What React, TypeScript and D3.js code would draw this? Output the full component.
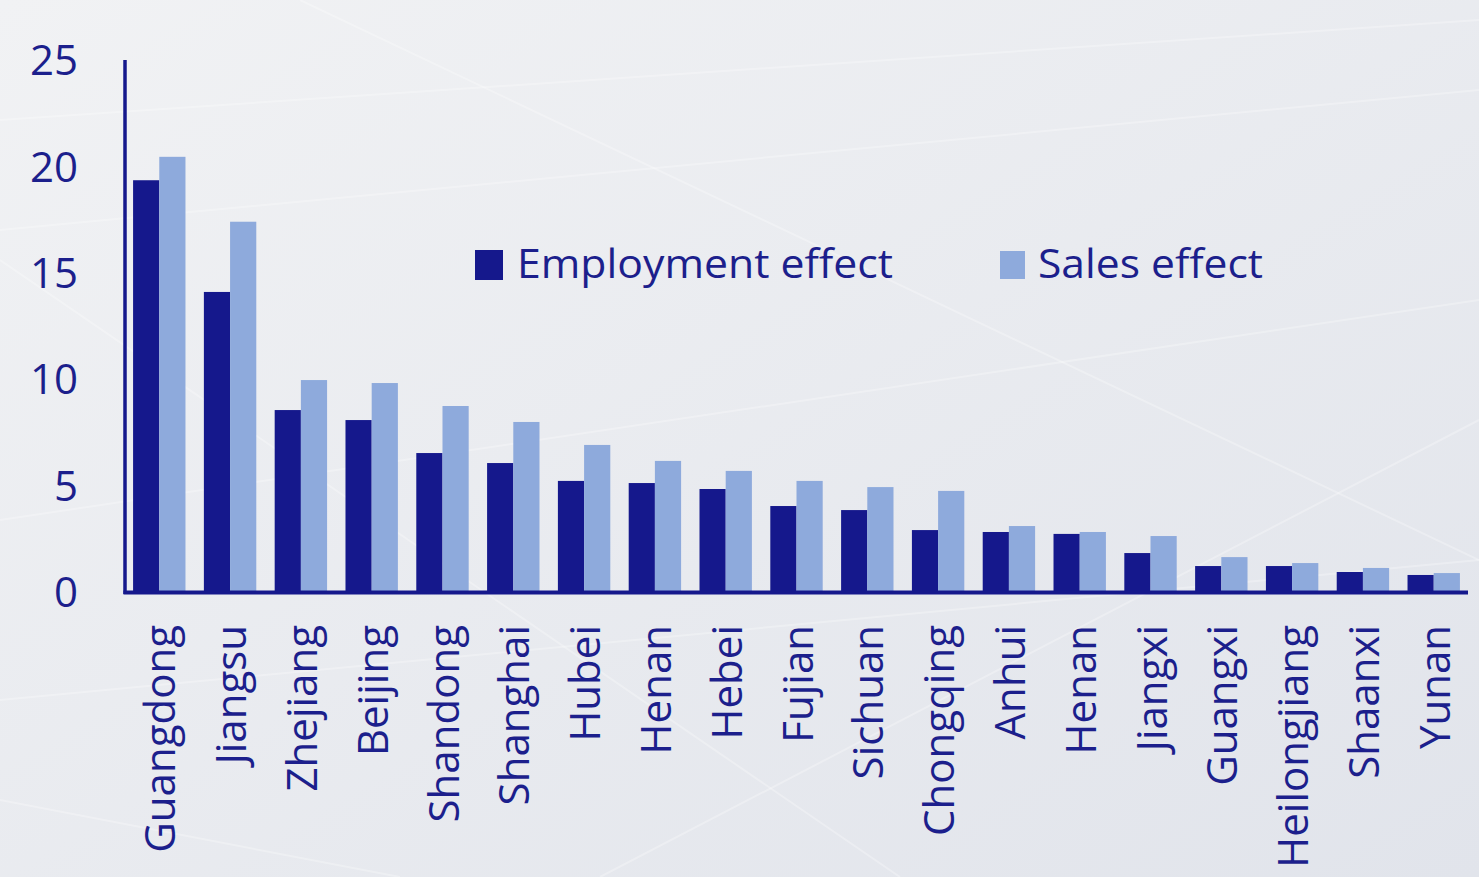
import { useEffect } from 'react';
import * as d3 from 'd3';

const provinces = [
  'Guangdong', 'Jiangsu', 'Zhejiang', 'Beijing', 'Shandong', 'Shanghai', 'Hubei', 'Henan', 'Hebei',
  'Fujian', 'Sichuan', 'Chongqing', 'Anhui', 'Henan', 'Jiangxi', 'Guangxi', 'Heilongjiang', 'Shaanxi', 'Yunan',
];
const employmentEffect = [19.35, 14.1, 8.55, 8.08, 6.53, 6.06, 5.22, 5.12, 4.84, 4.04, 3.85, 2.91, 2.82, 2.73, 1.83, 1.22, 1.22, 0.94, 0.8];
const salesEffect = [20.45, 17.4, 9.96, 9.82, 8.74, 7.99, 6.91, 6.16, 5.69, 5.22, 4.93, 4.75, 3.1, 2.82, 2.63, 1.64, 1.36, 1.13, 0.89];
const yTicks = [0, 5, 10, 15, 20, 25];

const DARK = '#15188c';
const LIGHT = '#8eaadc';
const TEXT = '#1c1f8c';

const W = 1479;
const H = 877;

export default function App() {
  useEffect(() => {
    document.body.style.margin = '0';
  }, []);

  const y = d3.scaleLinear().domain([0, 25]).range([592, 60]);
  const x = d3.scaleBand<number>()
    .domain(d3.range(provinces.length))
    .range([126, 1467])
    .paddingInner(0.26)
    .paddingOuter(0.1);
  const inner = d3.scaleBand<string>()
    .domain(['emp', 'sales'])
    .range([0, x.bandwidth()]);

  // faint background streaks
  const streaks = [
    [0, 120, 1479, 20], [0, 230, 1479, 90], [0, 520, 1479, 300], [0, 260, 900, 877],
    [300, 0, 1479, 560], [0, 700, 1479, 560], [600, 877, 1479, 420], [0, 800, 400, 877],
  ];

  return (
    <svg width={W} height={H} style={{ display: 'block' }}>
      <defs>
        <linearGradient id="bg" x1="0" y1="0" x2="1" y2="1">
          <stop offset="0%" stopColor="#f1f2f4" />
          <stop offset="100%" stopColor="#e1e4eb" />
        </linearGradient>
      </defs>
      <rect width={W} height={H} fill="url(#bg)" />
      {streaks.map((s, i) => (
        <line key={i} x1={s[0]} y1={s[1]} x2={s[2]} y2={s[3]} stroke="#ffffff" strokeOpacity={0.28} strokeWidth={2} />
      ))}

      {/* bars */}
      {provinces.map((p, i) => (
        <g key={i} transform={`translate(${x(i)},0)`}>
          <rect x={inner('emp')} y={y(employmentEffect[i])} width={inner.bandwidth()}
            height={y(0) - y(employmentEffect[i])} fill={DARK} />
          <rect x={inner('sales')} y={y(salesEffect[i])} width={inner.bandwidth()}
            height={y(0) - y(salesEffect[i])} fill={LIGHT} />
        </g>
      ))}

      {/* axes */}
      <line x1={125} x2={125} y1={y(25)} y2={y(0) + 2} stroke={DARK} strokeWidth={3.5} />
      <line x1={123.5} x2={1468} y1={y(0) + 0.5} y2={y(0) + 0.5} stroke={DARK} strokeWidth={4} />

      {yTicks.map(t => (
        <text key={t} x={78} y={y(t)} dy="0.36em" textAnchor="end" fill={TEXT}
          fontFamily="Open Sans" fontSize={42}>{t}</text>
      ))}

      {provinces.map((p, i) => (
        <text key={i} transform={`translate(${(x(i) ?? 0) + x.bandwidth() / 2 + 1},625) rotate(-90)`}
          dy="0.36em" textAnchor="end" fill={TEXT} fontFamily="Open Sans" fontSize={42}
          fontWeight={500}>{p}</text>
      ))}

      {/* legend */}
      <rect x={475} y={250} width={28} height={30} fill={DARK} />
      <text x={517} y={278} fill={TEXT} fontFamily="Open Sans" fontSize={40}
        textLength={376} lengthAdjust="spacingAndGlyphs">Employment effect</text>
      <rect x={1000} y={251} width={25} height={28} fill={LIGHT} />
      <text x={1038} y={278} fill={TEXT} fontFamily="Open Sans" fontSize={40}
        textLength={225} lengthAdjust="spacingAndGlyphs">Sales effect</text>
    </svg>
  );
}
